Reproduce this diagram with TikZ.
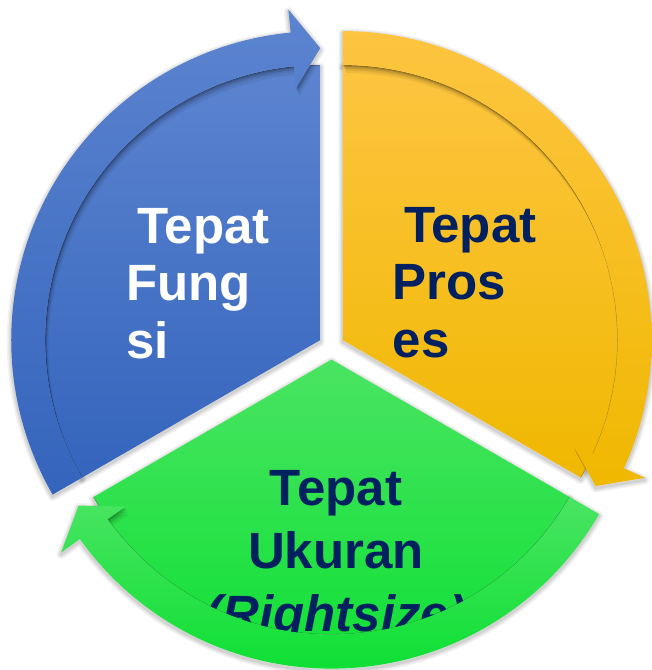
\documentclass[tikz,border=0pt]{standalone}
\usepackage{fontspec}
\setmainfont{Liberation Sans}
\usetikzlibrary{calc}

\definecolor{bluetop}{RGB}{92,132,208}
\definecolor{bluebot}{RGB}{52,100,188}
\definecolor{yeltop}{RGB}{253,197,64}
\definecolor{yelbot}{RGB}{240,184,0}
\definecolor{grntop}{RGB}{74,228,98}
\definecolor{grnbot}{RGB}{14,224,52}
\definecolor{navytext}{RGB}{0,32,96}

\begin{document}
\begin{tikzpicture}[x=1pt,y=1pt,
  % inner pie slice of one segment, from angle #1 clockwise to #2
  sectorpath/.style 2 args={insert path={(0,0) -- (#1:275)
      arc[start angle=#1,end angle=#2,radius=275] -- cycle}},
  % curved arrow band on the rim, head ending at angle #2
  bandpath/.style 2 args={insert path={(#1:275) -- (#1:309)
      arc[start angle=#1,end angle=#2+5.5,radius=309]
      -- (#2+5.5:332) -- (#2:292) -- (#2+5.5:253) -- (#2+5.5:275)
      arc[start angle=#2+5.5,end angle=#1,radius=275] -- cycle}},
  labelfont/.style={font=\bfseries\fontsize{51}{57.5}\selectfont},
  % labels are placed by the baseline of their last line
  sidelabel/.style={labelfont, anchor=base west, align=left, inner sep=0pt},
  bottomlabel/.style={font=\bfseries\fontsize{51}{63}\selectfont,
      anchor=base, align=center, inner sep=0pt, text=navytext},
]
\useasboundingbox (-331.5,-323.4) rectangle (320.5,346.6);

% soft drop shadows around every segment
\foreach \sh/\a/\b in {150/210/90, 30/90/-30, 270/330/210}{
  \begin{scope}[shift={(\sh:13)}, yshift=-2pt]
    \foreach \w/\o in {9/0.05, 6/0.06, 3/0.08}{
      \path[sectorpath={\a}{\b}, draw=black, draw opacity=\o, line width=\w pt, line join=round];
      \path[bandpath={\a}{\b}, draw=black, draw opacity=\o, line width=\w pt, line join=round];
    }
  \end{scope}
}

% inner slices with the shadow thrown by the rim arrow
\foreach \sh/\a/\b/\ct/\cb in {150/210/90/bluetop/bluebot,
                                30/90/-30/yeltop/yelbot,
                                270/330/210/grntop/grnbot}{
  \begin{scope}[shift={(\sh:13)}]
    \path[sectorpath={\a}{\b}, top color=\ct, bottom color=\cb];
    \begin{scope}
      \clip[sectorpath={\a}{\b}];
      \foreach \d/\o in {8/0.06, 5.5/0.08, 3.5/0.11, 1.8/0.15}{
        \path[xshift=0.4*\d pt, yshift=-\d pt, bandpath={\a}{\b}, fill=black, fill opacity=\o];
      }
      \draw[black, opacity=0.25, line width=1.2pt] (\a:275)
        arc[start angle=\a, end angle=\b, radius=275];
    \end{scope}
  \end{scope}
}

% segment labels
\node[sidelabel, text=white] (fungsi) at (-205.2,-11.4)
  {\hspace*{11pt}Tepat\\Fung\\si};
\node[sidelabel, text=navytext] (proses) at (61,-10.4)
  {\hspace*{11.5pt}Tepat\\Pros\\es};
\node[bottomlabel] (ukuran) at (4.5,-284.4)
  {Tepat\\Ukuran\\\textit{(Rightsize)}};

% rim arrows on top
\foreach \sh/\a/\b/\ct/\cb in {150/210/90/bluetop/bluebot,
                                30/90/-30/yeltop/yelbot,
                                270/330/210/grntop/grnbot}{
  \begin{scope}[shift={(\sh:13)}]
    \path[bandpath={\a}{\b}, top color=\ct, bottom color=\cb];
  \end{scope}
}
\end{tikzpicture}
\end{document}
